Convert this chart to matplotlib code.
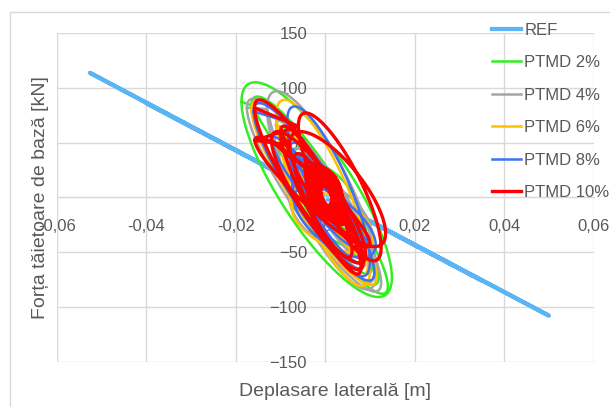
import numpy as np
import matplotlib
matplotlib.use("Agg")
import matplotlib.pyplot as plt
from matplotlib import font_manager
from matplotlib.patches import Rectangle

# REF: back-and-forth along an almost linear branch
ref_disp = [0.0, 0.030, -0.040, 0.050, -0.0526, 0.035, -0.020, 0.0]
ref_force = [0.0, -65.0, 86.0, -108.0, 113.7, -76.0, 43.0, 0.0]

# PTMD loops, one entry per cycle: displacement min/max [m], force max/min [kN], loop opening [deg]
p2_dmin = [-0.0187, -0.0165, -0.0120, -0.0060, -0.0090, -0.0050, -0.0035, -0.0070, -0.0105]
p2_dmax = [0.0149, 0.0120, 0.0140, 0.0090, 0.0080, 0.0060, 0.0040, 0.0105, 0.0085]
p2_fmax = [105, 92, 60, 31, 55, 30, 20, 45, 65]
p2_fmin = [-91, -80, -88, -45, -50, -30, -20, -70, -55]
p2_lag = [35, 25, 25, 55, 25, 30, 35, 30, 20]

p4_dmin = [-0.0175, -0.0130, -0.0080, -0.0095, -0.0070, -0.0040, -0.0025, -0.0060, -0.0110]
p4_dmax = [0.0125, 0.0115, 0.0104, 0.0090, 0.0070, 0.0050, 0.0035, 0.0110, 0.0080]
p4_fmax = [90, 97, 16, 60, 45, 25, 18, 40, 70]
p4_fmin = [-86, -84, -50, -65, -45, -25, -18, -78, -55]
p4_lag = [25, 35, 60, 30, 25, 30, 35, 35, 20]

p6_dmin = [-0.0165, -0.0110, -0.0075, -0.0090, -0.0060, -0.0030, -0.0020, -0.0050, -0.0100]
p6_dmax = [0.0115, 0.0100, 0.0107, 0.0085, 0.0060, 0.0040, 0.0030, 0.0095, 0.0075]
p6_fmax = [88, 89, 5, 55, 40, 22, 15, 35, 65]
p6_fmin = [-80, -81, -50, -60, -40, -22, -15, -72, -50]
p6_lag = [25, 35, 60, 30, 25, 30, 35, 35, 20]

p8_dmin = [-0.0160, -0.0085, -0.0070, -0.0080, -0.0060, -0.0035, -0.0020, -0.0045, -0.0120]
p8_dmax = [0.0110, 0.0100, 0.0113, 0.0090, 0.0065, 0.0045, 0.0030, 0.0085, 0.0070]
p8_fmax = [86, 83, 10, 50, 40, 25, 15, 30, 55]
p8_fmin = [-76, -72, -55, -60, -40, -25, -15, -65, -45]
p8_lag = [25, 35, 50, 30, 25, 30, 35, 35, 20]

p10_dmin = [-0.0158, -0.0060, -0.0157, -0.0080, -0.0100, -0.0070, -0.0120,
            -0.0045, -0.0042, -0.0040, -0.0038, -0.0035, -0.0033, -0.0030, -0.0028,
            -0.0026, -0.0024, -0.0022, -0.0020, -0.0018, -0.0015, -0.0012, -0.0010,
            -0.0040, -0.0032, -0.0025, -0.0018]
p10_dmax = [0.0085, 0.0125, 0.0100, 0.0135, 0.0080, 0.0060, 0.0090,
            0.0045, 0.0042, 0.0040, 0.0038, 0.0036, 0.0034, 0.0032, 0.0030,
            0.0028, 0.0027, 0.0025, 0.0023, 0.0021, 0.0019, 0.0017, 0.0015,
            0.0035, 0.0030, 0.0026, 0.0020]
p10_fmax = [89, 77, 55, 60, 65, 40, 60,
            32, 30, 28, 27, 25, 24, 22, 21, 20, 18, 17, 16, 15, 13, 12, 10,
            24, 22, 18, 14]
p10_fmin = [-66, -58, -45, -45, -70, -55, -60,
            -25, -22, -24, -20, -19, -18, -17, -16, -15, -14, -13, -12, -11, -10, -9, -8,
            -14, -12, -10, -8]
p10_lag = [25, 35, 20, 40, 25, 30, 30,
           35, 60, 45, 75, 40, 65, 50, 80, 35, 55, 70, 45, 60, 80, 50, 70,
           85, 90, 85, 90]

labels = ["REF", "PTMD 2%", "PTMD 4%", "PTMD 6%", "PTMD 8%", "PTMD 10%"]
colors = ["#5BB4F4", "#33EE22", "#A5A5A5", "#FFC000", "#4070F4", "#FF0000"]

names = {f.name for f in font_manager.fontManager.ttflist}
FONT = "Liberation Sans Narrow" if "Liberation Sans Narrow" in names else "Liberation Sans"
plt.rcParams["font.family"] = [FONT, "DejaVu Sans"]
TXT = "#595959"
GRID = "#D9D9D9"


def loops(dmin, dmax, fmax, fmin, lag):
    t = np.linspace(0, 2 * np.pi, 140)
    xs, ys = [], []
    for a, b, c, d, g in zip(dmin, dmax, fmax, fmin, lag):
        xs.append((a + b) / 2 - (b - a) / 2 * np.cos(t))
        ys.append((c + d) / 2 + (c - d) / 2 * np.cos(t - np.radians(g)))
    return np.concatenate(xs), np.concatenate(ys)


fig = plt.figure(figsize=(6.10, 4.07), dpi=100)
fig.patches.append(Rectangle((9.5 / 610, -0.1), 1.2, 1.1 - 11.7 / 407,
                             transform=fig.transFigure, fill=False,
                             edgecolor=GRID, linewidth=1))
ax = fig.add_axes([56.7 / 610, 1 - 361.7 / 407, 537 / 610, 328.7 / 407])

ax.plot(ref_disp, ref_force, color=colors[0], lw=3, label=labels[0], zorder=2)
series = [
    (p2_dmin, p2_dmax, p2_fmax, p2_fmin, p2_lag, 1.8),
    (p4_dmin, p4_dmax, p4_fmax, p4_fmin, p4_lag, 1.8),
    (p6_dmin, p6_dmax, p6_fmax, p6_fmin, p6_lag, 1.8),
    (p8_dmin, p8_dmax, p8_fmax, p8_fmin, p8_lag, 1.8),
    (p10_dmin, p10_dmax, p10_fmax, p10_fmin, p10_lag, 2.4),
]
for i, (a, b, c, d, g, lw) in enumerate(series):
    x, y = loops(a, b, c, d, g)
    ax.plot(x, y, color=colors[i + 1], lw=lw, label=labels[i + 1], zorder=3 + i)

ax.set_xlim(-0.06, 0.06)
ax.set_ylim(-150, 150)
ax.set_xticks(np.arange(-0.06, 0.061, 0.02))
ax.set_yticks(np.arange(-150, 151, 50))
ax.xaxis.set_major_formatter(lambda v, p: f"{v:.2f}".replace(".", ",").replace("-0,00", "0"))
ax.grid(True, color=GRID, lw=1)
ax.set_axisbelow(True)
for s in ["top", "right"]:
    ax.spines[s].set_visible(False)
ax.spines["left"].set_position("zero")
ax.spines["bottom"].set_position("zero")
ax.spines["left"].set_color(GRID)
ax.spines["bottom"].set_color(GRID)
ax.tick_params(axis="both", length=0, labelsize=12, labelcolor=TXT)
ax.tick_params(axis="x", pad=15.5)
ax.tick_params(axis="y", pad=13)

fig.text(335 / 610, 1 - 392 / 407, "Deplasare laterală [m]", ha="center", va="center",
         fontsize=14, color=TXT)
fig.text(40.5 / 610, 1 - 197.5 / 407, "Forța tăietoare de bază [kN]", ha="center",
         va="center", rotation=90, fontsize=14, color=TXT)

fig.legend(loc="upper left", bbox_to_anchor=(485 / 610, 1 - 16 / 407), frameon=False,
           fontsize=12, labelcolor=TXT, handlelength=1.75, handletextpad=0.2,
           labelspacing=1.05, borderaxespad=0)

fig.savefig("out.png", dpi=100)
